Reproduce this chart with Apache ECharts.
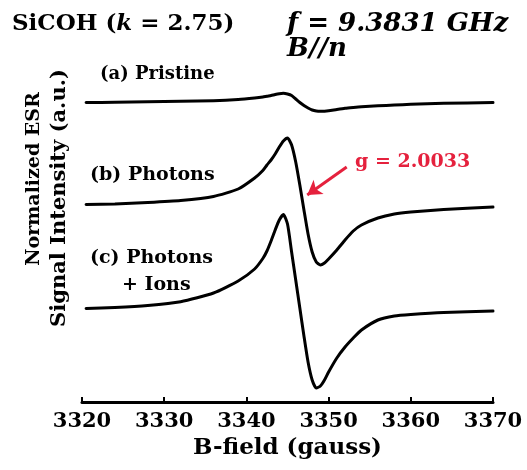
<!DOCTYPE html>
<html>
<head>
<meta charset="utf-8">
<script src="https://cdn.jsdelivr.net/npm/echarts@6/dist/echarts.min.js"></script>
<style>
html,body{margin:0;padding:0;background:#fff;}
#chart{width:527px;height:470px;}
</style>
</head>
<body>
<div id="chart"></div>
<script>
// Magnetic field (gauss)
const bField = [3320.5, 3324, 3328, 3332, 3336, 3339, 3341, 3342, 3342.5, 3343, 3343.5, 3344, 3344.5, 3345, 3345.5, 3346, 3346.5, 3347, 3347.5, 3348, 3348.5, 3349, 3349.5, 3350, 3351, 3352, 3353, 3354, 3356, 3358, 3360, 3364, 3370];
// Offset ESR signals (a.u.)
const pristine = [299.5, 299.7, 300.2, 300.7, 301.3, 302.5, 304, 305, 305.8, 306.5, 307.5, 308.3, 308.7, 308, 306.5, 303, 299.5, 296.5, 294, 292, 291, 290.7, 290.8, 291.2, 292.5, 293.7, 294.5, 295.2, 296.2, 297, 297.7, 298.7, 299.5];
const photons = [197.5, 198, 199.5, 201.5, 205.5, 213, 224, 231.5, 237, 242, 248, 255, 261, 264, 257, 240, 217, 192, 168, 150, 140, 137, 139, 143, 152, 162, 171, 177, 184, 188, 190, 192.5, 195];
const photonsIons = [93.5, 94.5, 96.5, 100.3, 109, 121, 133, 143.5, 151, 161, 172, 182, 187.5, 178, 150, 122, 94, 66, 40, 22, 14, 16, 22, 30, 44, 55, 64, 72, 82, 86, 87.5, 89.5, 91];
// Axis ticks
const xTicks = [3320, 3330, 3340, 3350, 3360, 3370];
// Arrow for g-value annotation [B, signal]
const arrowTail = [3352.2, 235];
const arrowTip = [3347.4, 207];

const FONT = '"DejaVu Serif", "Liberation Serif", serif';
const RED = '#e5213d';

function pairs(xs, ys) { return xs.map((x, i) => [x, ys[i]]); }

const chart = echarts.init(document.getElementById('chart'), null, {renderer: 'canvas'});

const lineStyle = {color: '#000', width: 3, join: 'round', cap: 'round'};

chart.setOption({
  animation: false,
  backgroundColor: '#fff',
  grid: {left: 82, right: 34, top: 30, bottom: 68, containLabel: false},
  xAxis: {
    type: 'value',
    min: xTicks[0],
    max: xTicks[xTicks.length - 1],
    interval: 10,
    axisLine: {show: true, onZero: false, lineStyle: {color: '#000', width: 3}},
    axisTick: {show: true, inside: true, length: 5, lineStyle: {color: '#000', width: 2}},
    splitLine: {show: false},
    axisLabel: {color: '#000', fontFamily: FONT, fontWeight: 'bold', fontSize: 21, margin: 9,
      formatter: v => String(v)},
    name: 'B-field (gauss)',
    nameLocation: 'middle',
    nameGap: 29,
    nameTextStyle: {color: '#000', fontFamily: FONT, fontWeight: 'bold', fontSize: 23}
  },
  yAxis: {
    type: 'value', min: 0, max: 372, show: false
  },
  series: [
    {type: 'line', data: pairs(bField, pristine), showSymbol: false, smooth: 0.2, lineStyle: lineStyle},
    {type: 'line', data: pairs(bField, photons), showSymbol: false, smooth: 0.2, lineStyle: lineStyle,
      markLine: {
        silent: true,
        symbol: ['none', 'arrow'],
        symbolSize: [13, 14],
        label: {show: false},
        lineStyle: {color: RED, width: 3, type: 'solid'},
        data: [[{coord: arrowTail}, {coord: arrowTip}]]
      }
    },
    {type: 'line', data: pairs(bField, photonsIons), showSymbol: false, smooth: 0.2, lineStyle: lineStyle}
  ],
  graphic: [
    {type: 'text', x: 12, y: 24, style: {
      text: '{a|SiCOH (}{i|k}{a| = 2.75)}', textVerticalAlign: 'middle', textAlign: 'left',
      rich: {
        a: {fontFamily: FONT, fontWeight: 'bold', fontSize: 23, fill: '#000', color: '#000'},
        i: {fontFamily: FONT, fontWeight: 'bold', fontStyle: 'italic', fontSize: 23, fill: '#000', color: '#000'}
      }}},
    {type: 'text', x: 287, y: 24, style: {text: 'f = 9.3831 GHz', font: 'italic bold 26px ' + FONT, fill: '#000', textAlign: 'left', textVerticalAlign: 'middle'}},
    {type: 'text', x: 287, y: 49, style: {text: 'B//n', font: 'italic bold 26px ' + FONT, fill: '#000', textAlign: 'left', textVerticalAlign: 'middle'}},
    {type: 'text', x: 100, y: 74, style: {text: '(a) Pristine', font: 'bold 18px ' + FONT, fill: '#000', textAlign: 'left', textVerticalAlign: 'middle'}},
    {type: 'text', x: 90, y: 175, style: {text: '(b) Photons', font: 'bold 19px ' + FONT, fill: '#000', textAlign: 'left', textVerticalAlign: 'middle'}},
    {type: 'text', x: 90, y: 258, style: {text: '(c) Photons', font: 'bold 19px ' + FONT, fill: '#000', textAlign: 'left', textVerticalAlign: 'middle'}},
    {type: 'text', x: 122, y: 285, style: {text: '+ Ions', font: 'bold 19px ' + FONT, fill: '#000', textAlign: 'left', textVerticalAlign: 'middle'}},
    {type: 'text', x: 355, y: 162, style: {text: 'g = 2.0033', font: 'bold 19px ' + FONT, fill: RED, textAlign: 'left', textVerticalAlign: 'middle'}},
    {type: 'text', x: 34, y: 179, rotation: Math.PI / 2, style: {text: 'Normalized ESR', font: 'bold 19px ' + FONT, fill: '#000', textAlign: 'center', textVerticalAlign: 'middle'}},
    {type: 'text', x: 60, y: 198, rotation: Math.PI / 2, style: {text: 'Signal Intensity (a.u.)', font: 'bold 21px ' + FONT, fill: '#000', textAlign: 'center', textVerticalAlign: 'middle'}}
  ]
});
</script>
</body>
</html>
